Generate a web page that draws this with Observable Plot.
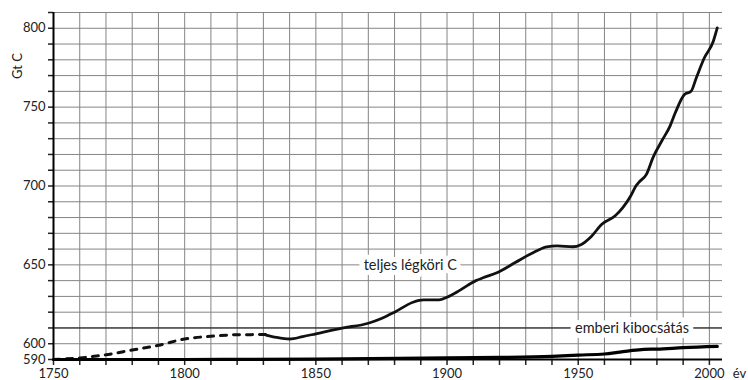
<!DOCTYPE html>
<html>
<head>
<meta charset="utf-8">
<script src="https://cdn.jsdelivr.net/npm/d3@7"></script>
<script src="https://cdn.jsdelivr.net/npm/@observablehq/plot@0.6"></script>
<style>
  html, body { margin: 0; padding: 0; background: #fff; }
</style>
</head>
<body>
<div id="chart"></div>
<script>
// Total atmospheric carbon (Gt C) – estimated (dashed) part
const estYears = [1750, 1760, 1770, 1780, 1790, 1800, 1810, 1820, 1831];
const estValues = [590, 591, 593, 596, 599, 603, 604.7, 605.7, 605.8];

// Total atmospheric carbon (Gt C) – measured (solid) part
const totYears = [1831, 1835, 1840, 1845, 1850, 1860, 1870, 1875, 1880, 1887, 1891, 1897, 1900, 1905, 1911, 1914, 1919, 1926, 1932, 1938, 1942, 1948, 1951, 1955, 1959, 1964, 1967, 1970, 1972, 1973.5, 1976, 1978.5, 1982, 1985, 1987, 1990.5, 1993, 1995, 1998, 2001.5, 2003];
const totValues = [605.5, 604, 603, 604.5, 606.3, 609.9, 613, 616, 620, 626.3, 627.8, 627.8, 629.5, 634, 640, 642, 645, 651.5, 657, 661.4, 662, 661.5, 662.8, 668, 675.8, 681, 686.3, 693.7, 700, 703, 707.4, 718, 729, 738, 746.4, 758, 760, 768.5, 781, 791.8, 800.2];

// Human emissions (Gt C)
const emiYears = [1750, 1800, 1850, 1900, 1920, 1940, 1950, 1960, 1965, 1970, 1975, 1980, 1990, 2003];
const emiValues = [590, 590, 590.3, 591, 591.3, 592, 592.8, 593.5, 594.5, 595.6, 596.4, 596.6, 597.5, 598.3];

// Tick labels
const xTickLabels = [1750, 1800, 1850, 1900, 1950, 2000];
const yTickLabels = [590, 600, 650, 700, 750, 800];

// Series labels
const labelTexts = ["teljes légköri C", "emberi kibocsátás"];
const labelYears = [1886, 1970.5];
const labelValues = [650, 610];

const est = estYears.map((x, i) => ({x, y: estValues[i]}));
const tot = totYears.map((x, i) => ({x, y: totValues[i]}));
const emi = emiYears.map((x, i) => ({x, y: emiValues[i]}));
const labels = labelTexts.map((t, i) => ({t, x: labelYears[i], y: labelValues[i]}));

const gridX = d3.range(1760, 2001, 10);
const gridY = d3.range(600, 811, 10);

const chart = Plot.plot({
  width: 748,
  height: 380,
  marginLeft: 53,
  marginRight: 26,
  marginTop: 12,
  marginBottom: 21,
  style: {fontFamily: "Lato, 'Open Sans', sans-serif", fontSize: "13px", color: "#222", background: "#fff"},
  x: {domain: [1750, 2005]},
  y: {domain: [590, 810]},
  marks: [
    Plot.ruleX(gridX, {stroke: "#858585", strokeWidth: 1}),
    Plot.ruleY(gridY, {stroke: "#858585", strokeWidth: 1}),
    Plot.ruleY([610], {stroke: "#111", strokeWidth: 1}),
    Plot.axisY({ticks: d3.range(590, 811, 10), tickSize: 5, tickPadding: 3, strokeWidth: 1.5,
      tickFormat: d => yTickLabels.includes(d) ? String(d) : "", label: null, fontSize: 13}),
    Plot.axisX({ticks: d3.range(1750, 2001, 10), tickSize: 6, tickPadding: 3, strokeWidth: 1.5,
      tickFormat: d => xTickLabels.includes(d) ? String(d) : "", label: null, fontSize: 13}),
    Plot.text(labels, {x: "x", y: "y", text: "t", fill: "#222", stroke: "white", strokeWidth: 10,
      fontSize: 14.5, paintOrder: "stroke"}),
    Plot.line(est, {x: "x", y: "y", stroke: "#111", strokeWidth: 3, strokeDasharray: "6,7", curve: "monotone-x"}),
    Plot.line(tot, {x: "x", y: "y", stroke: "#111", strokeWidth: 2.8, curve: "monotone-x"}),
    Plot.line(emi, {x: "x", y: "y", stroke: "#000", strokeWidth: 3.2, curve: "monotone-x"}),
    Plot.ruleX([1750], {stroke: "#000", strokeWidth: 2}),
    Plot.ruleY([590], {stroke: "#000", strokeWidth: 2}),
    Plot.text(["Gt C"], {x: 1750, y: 776, dx: -36, rotate: -90, fill: "#222", fontSize: 13}),
    Plot.text(["év"], {x: 2005, y: 590, dx: 17, dy: 14, fill: "#222", fontSize: 13})
  ]
});
document.getElementById("chart").appendChild(chart);
</script>
</body>
</html>
